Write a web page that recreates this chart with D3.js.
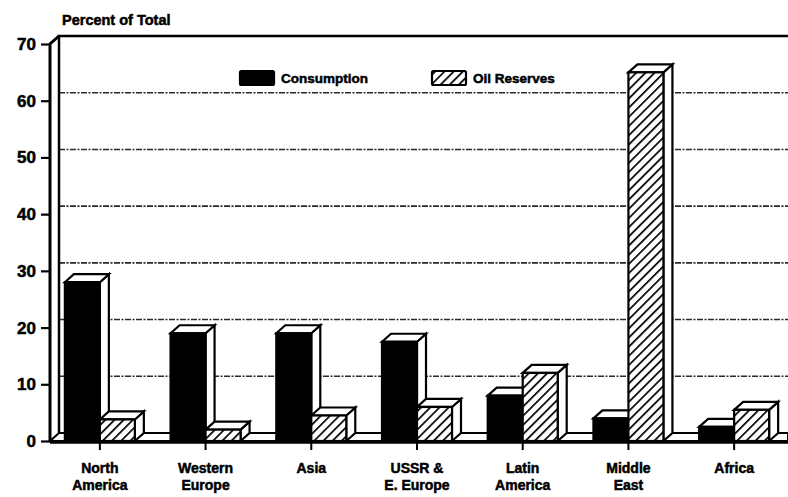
<!DOCTYPE html>
<html>
<head>
<meta charset="utf-8">
<script src="https://cdn.jsdelivr.net/npm/d3@7"></script>
<style>
  body { margin: 0; background: #fff; }
  text { font-family: "Liberation Sans", Arial, sans-serif; font-weight: bold; fill: #000;
         stroke: #000; stroke-width: 0.5px; }
</style>
</head>
<body>
<svg id="chart" width="788" height="497"></svg>
<script>
const categories = [['North', 'America'], ['Western', 'Europe'], ['Asia'], ['USSR &', 'E. Europe'],
  ['Latin', 'America'], ['Middle', 'East'], ['Africa']];
const consumption = [28, 19, 19, 17.5, 8, 4, 2.5];
const reserves = [3.8, 2, 4.5, 6, 12, 65, 5.5];
const yTicks = [0, 10, 20, 30, 40, 50, 60, 70];
const seriesNames = ['Consumption', 'Oil Reserves'];

const svg = d3.select('#chart');
const width = 788, height = 497;
const dx = 9, dy = -8; // 3d depth offset

const y = d3.scaleLinear().domain([0, 70]).range([441, 44]);
const x = d3.scaleBand()
  .domain(d3.range(categories.length))
  .range([47, 787])
  .paddingInner(0.338)
  .paddingOuter(0.169);
const xSub = d3.scaleBand().domain([0, 1]).range([0, x.bandwidth()]);

// hatch pattern
const defs = svg.append('defs');
defs.append('pattern')
    .attr('id', 'hatch')
    .attr('patternUnits', 'userSpaceOnUse')
    .attr('width', 6.5).attr('height', 6.5)
    .attr('patternTransform', 'rotate(45)')
  .call(p => {
    p.append('rect').attr('width', 6.5).attr('height', 6.5).attr('fill', '#fff');
    p.append('line').attr('x1', 0).attr('y1', 0).attr('x2', 0).attr('y2', 6.5)
      .attr('stroke', '#000').attr('stroke-width', 3.4);
  });

const left = 50, right = width;

// back wall gridlines
svg.append('g')
  .selectAll('line')
  .data(yTicks.filter(d => d > 0 && d < 70))
  .join('line')
    .attr('x1', left + dx).attr('x2', right)
    .attr('y1', d => y(d) + dy).attr('y2', d => y(d) + dy)
    .attr('stroke', '#2a2a2a')
    .attr('stroke-width', 1.6)
    .attr('stroke-dasharray', '6 1.5 2 1.5');

// back wall top + left edges
svg.append('path')
  .attr('d', `M${right},${y(70) + dy}H${left + dx}V${y(0) + dy}`)
  .attr('fill', 'none').attr('stroke', '#000').attr('stroke-width', 2.5);
svg.append('path')
  .attr('d', `M${left},${y(0)}V${y(70)}L${left + dx},${y(70) + dy}`)
  .attr('fill', 'none').attr('stroke', '#000').attr('stroke-width', 3);

// floor
svg.append('path')
  .attr('d', `M${left},${y(0)}L${left + dx},${y(0) + dy}H${right}V${y(0)}Z`)
  .attr('fill', '#fff').attr('stroke', '#000').attr('stroke-width', 2);
svg.append('line')
  .attr('x1', left).attr('x2', right).attr('y1', y(0) + 1).attr('y2', y(0) + 1)
  .attr('stroke', '#000').attr('stroke-width', 3.5);

// y axis ticks
const yAxis = svg.append('g')
  .attr('transform', `translate(${left},0)`)
  .call(d3.axisLeft(y).tickValues(yTicks).tickSize(9).tickPadding(5));
yAxis.select('.domain').remove();
yAxis.selectAll('.tick line').attr('stroke', '#000').attr('stroke-width', 2.2);
yAxis.selectAll('.tick text').style('font-size', '17px');

// 3d bars
function bar3d(g, x0, w, v, fill) {
  const top = y(v), base = y(0);
  g.append('path')
    .attr('d', `M${x0 + w},${base}L${x0 + w + dx},${base + dy}V${top + dy}L${x0 + w},${top}Z`)
    .attr('fill', '#fff').attr('stroke', '#000').attr('stroke-width', 2.2);
  g.append('path')
    .attr('d', `M${x0},${top}L${x0 + dx},${top + dy}H${x0 + w + dx}L${x0 + w},${top}Z`)
    .attr('fill', '#fff').attr('stroke', '#000').attr('stroke-width', 2.2);
  g.append('rect')
    .attr('x', x0).attr('y', top).attr('width', w).attr('height', base - top)
    .attr('fill', fill).attr('stroke', '#000').attr('stroke-width', 2.2);
}

const bars = svg.append('g');
categories.forEach((c, i) => {
  bar3d(bars, x(i) + xSub(0), xSub.bandwidth(), consumption[i], '#000');
  bar3d(bars, x(i) + xSub(1), xSub.bandwidth(), reserves[i], 'url(#hatch)');
});

// x axis ticks and labels
const xAxis = svg.append('g');
xAxis.selectAll('line')
  .data(categories)
  .join('line')
    .attr('x1', (d, i) => x(i) + x.bandwidth() / 2)
    .attr('x2', (d, i) => x(i) + x.bandwidth() / 2)
    .attr('y1', y(0)).attr('y2', y(0) + 9)
    .attr('stroke', '#000').attr('stroke-width', 2);
xAxis.selectAll('text')
  .data(categories)
  .join('text')
    .attr('x', (d, i) => x(i) + x.bandwidth() / 2)
    .attr('y', 473)
    .attr('text-anchor', 'middle')
    .style('font-size', '14px')
    .selectAll('tspan')
    .data(d => d)
    .join('tspan')
      .attr('x', function() { return d3.select(this.parentNode).attr('x'); })
      .attr('dy', (d, i) => i ? 17 : 0)
      .text(d => d);

// title
svg.append('text')
  .attr('x', 62).attr('y', 25)
  .style('font-size', '14.5px')
  .text('Percent of Total');

// legend
const legend = svg.append('g');
const legendX = [240, 432];
seriesNames.forEach((name, i) => {
  legend.append('rect')
    .attr('x', legendX[i]).attr('y', 71).attr('width', 34).attr('height', 14)
    .attr('rx', 1.5)
    .attr('fill', i ? 'url(#hatch)' : '#000')
    .attr('stroke', '#000').attr('stroke-width', 2.2);
  legend.append('text')
    .attr('x', legendX[i] + 41).attr('y', 83)
    .style('font-size', '13.5px')
    .text(name);
});
</script>
</body>
</html>
